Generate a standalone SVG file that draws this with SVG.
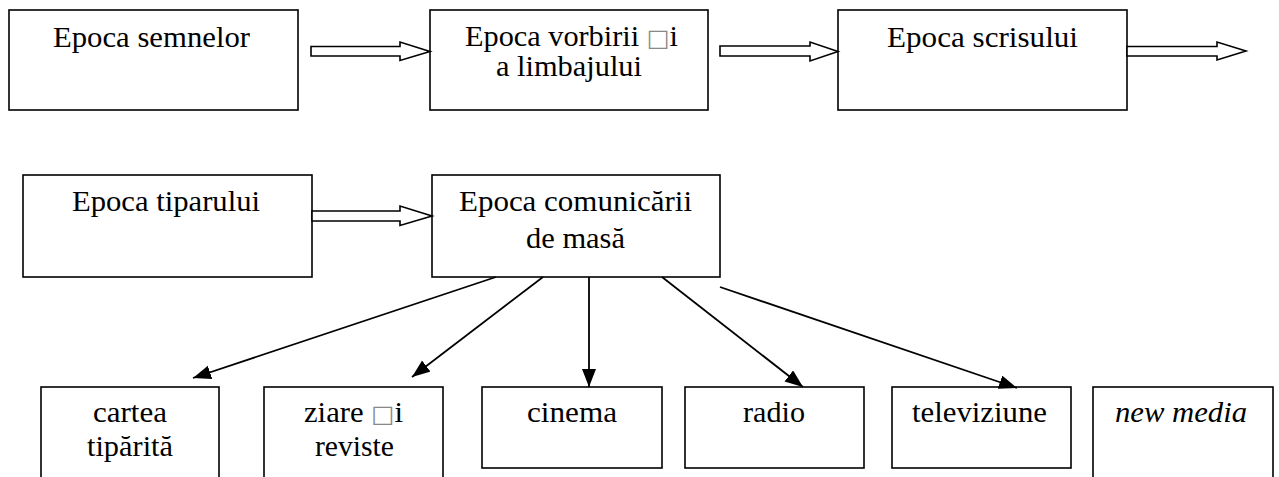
<svg xmlns="http://www.w3.org/2000/svg" width="1279" height="477" viewBox="0 0 1279 477">
<style>
.box{fill:#fff;stroke:#000;stroke-width:1.6}
.blk{fill:#fff;stroke:#000;stroke-width:1.6;stroke-linejoin:miter}
.t{font-family:'Liberation Serif',Tinos,'Times New Roman',Times,'Nimbus Roman','Nimbus Roman No9 L','DejaVu Serif','Noto Serif',serif;font-size:30px;fill:#000;text-anchor:middle}
.it{font-style:italic}
.sq{fill:#888;font-family:'DejaVu Sans',sans-serif;font-size:24px}
.ln{stroke:#000;stroke-width:1.8;fill:none}
</style>
<defs>
<marker id="ah" markerUnits="userSpaceOnUse" markerWidth="20" markerHeight="16" refX="18" refY="7" orient="auto">
<path d="M0,0 L18,7 L0,14 Z" fill="#000"/>
</marker>
</defs>
<rect width="1279" height="477" fill="#fff"/>
<g id="n-semne"><rect class="box" x="9" y="10" width="289" height="100"/><text class="t" x="151.5" y="47" textLength="197" lengthAdjust="spacingAndGlyphs">Epoca semnelor</text></g>
<g id="n-vorbire"><rect class="box" x="430" y="10" width="278" height="100"/><text class="t" x="571.5" y="46" textLength="213" lengthAdjust="spacingAndGlyphs">Epoca vorbirii <tspan class="sq">□</tspan>i</text><text class="t" x="569" y="76" textLength="146" lengthAdjust="spacingAndGlyphs">a limbajului</text></g>
<g id="n-scris"><rect class="box" x="838" y="10" width="289" height="100"/><text class="t" x="982.5" y="47" textLength="191" lengthAdjust="spacingAndGlyphs">Epoca scrisului</text></g>
<g id="n-tipar"><rect class="box" x="23" y="175" width="289" height="102"/><text class="t" x="166" y="211" textLength="188" lengthAdjust="spacingAndGlyphs">Epoca tiparului</text></g>
<g id="n-masa"><rect class="box" x="432" y="175" width="288" height="102"/><text class="t" x="575.5" y="211" textLength="233" lengthAdjust="spacingAndGlyphs">Epoca comunicării</text><text class="t" x="575.5" y="248" textLength="99" lengthAdjust="spacingAndGlyphs">de masă</text></g>
<g id="n-carte"><rect class="box" x="41" y="387" width="178" height="110"/><text class="t" x="130" y="422" textLength="74" lengthAdjust="spacingAndGlyphs">cartea</text><text class="t" x="130" y="456" textLength="86" lengthAdjust="spacingAndGlyphs">tipărită</text></g>
<g id="n-ziare"><rect class="box" x="264" y="387" width="179" height="110"/><text class="t" x="353.5" y="422" textLength="99" lengthAdjust="spacingAndGlyphs">ziare <tspan class="sq">□</tspan>i</text><text class="t" x="354.5" y="456" textLength="79" lengthAdjust="spacingAndGlyphs">reviste</text></g>
<g id="n-cinema"><rect class="box" x="482" y="387" width="180" height="81"/><text class="t" x="572" y="422" textLength="90" lengthAdjust="spacingAndGlyphs">cinema</text></g>
<g id="n-radio"><rect class="box" x="685" y="387" width="179" height="81"/><text class="t" x="774" y="422" textLength="62" lengthAdjust="spacingAndGlyphs">radio</text></g>
<g id="n-tv"><rect class="box" x="892" y="387" width="179" height="81"/><text class="t" x="979.5" y="422" textLength="135" lengthAdjust="spacingAndGlyphs">televiziune</text></g>
<g id="n-new"><rect class="box" x="1093" y="387" width="180" height="110"/><text class="t it" x="1181" y="422" textLength="132" lengthAdjust="spacingAndGlyphs">new media</text></g>
<g id="connectors">
<polygon class="blk" points="311,46.5 400,46.5 400,42 430,51.5 400,60.5 400,56 311,56"/>
<polygon class="blk" points="720,46 810,46 810,42 838,51.5 810,61 810,56 720,56"/>
<polygon class="blk" points="1127,46.5 1217,46.5 1217,42 1246,51 1217,60 1217,56 1127,56"/>
<polygon class="blk" points="312,211 400,211 400,206 432,216 400,225.5 400,221 312,221"/>
<line class="ln" x1="496" y1="277" x2="193" y2="378" marker-end="url(#ah)"/>
<line class="ln" x1="543" y1="277" x2="412" y2="377" marker-end="url(#ah)"/>
<line class="ln" x1="589" y1="277" x2="589" y2="387" marker-end="url(#ah)"/>
<line class="ln" x1="662" y1="277" x2="803" y2="387" marker-end="url(#ah)"/>
<line class="ln" x1="720" y1="287" x2="1017" y2="388" marker-end="url(#ah)"/>
</g>
</svg>
